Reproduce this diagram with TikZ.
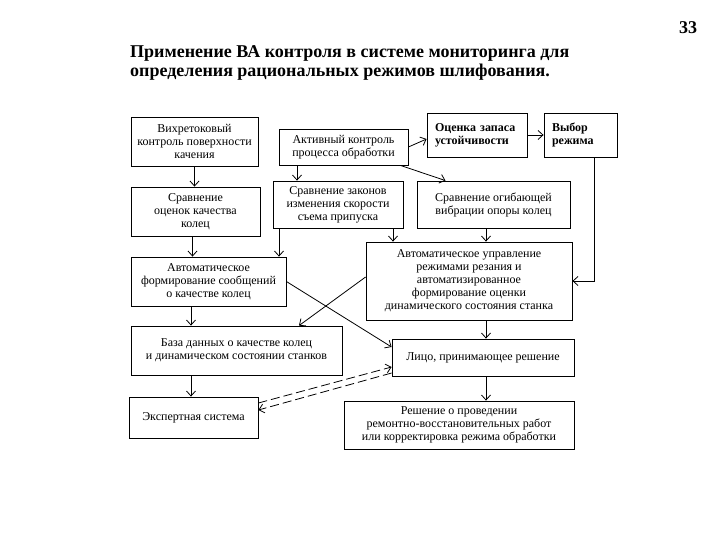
\documentclass[tikz,border=0pt]{standalone}
\usepackage{fontspec}
\setmainfont{Liberation Serif}
\usepackage{tikz}
\usetikzlibrary{arrows.meta}

\begin{document}
\begin{tikzpicture}[x=1pt, y=-1pt,
		blk/.style={draw, line width=0.8pt, align=center, inner sep=0pt, font=\fontsize{12}{13}\selectfont},
		bblk/.style={draw, line width=0.8pt, align=left, inner ysep=0pt, inner xsep=8pt, font=\bfseries\fontsize{12}{13}\selectfont},
		ttl/.style={anchor=base west, inner sep=0pt, font=\bfseries\fontsize{18}{20}\selectfont},
		arr/.style={-{Straight Barb[length=5pt, width=9pt]}, line width=0.8pt},
		darr/.style={arr, dash pattern=on 9pt off 4pt}]
	\useasboundingbox (0,0) rectangle (720,540);
	\node[ttl] (title1) at (130,58) {Применение ВА контроля в системе мониторинга для};
	\node[ttl] (title2) at (130,77) {определения рациональных режимов шлифования.};
	\node[ttl, anchor=base] (page) at (688,34) {33};
	\node[blk, minimum width=127, minimum height=49] (vih) at (194.5,141.5) {Вихретоковый\\контроль поверхности\\качения};
	\node[blk, minimum width=129, minimum height=36] (act) at (343.5,147) {Активный контроль\\процесса обработки};
	\node[bblk, text width=84, minimum height=44] (oc) at (477,135) {Оценка запаса\\устойчивости};
	\node[bblk, text width=57, minimum height=44] (vyb) at (580.5,135) {Выбор\\режима};
	\node[blk, minimum width=129, minimum height=49] (so) at (195.5,211.5) {Сравнение\\оценок качества\\колец};
	\node[blk, minimum width=130, minimum height=47] (sz) at (338,204.5) {Сравнение законов\\изменения скорости\\съема припуска};
	\node[blk, minimum width=153, minimum height=47] (og) at (493.5,204.5) {Сравнение огибающей\\вибрации опоры колец};
	\node[blk, minimum width=155, minimum height=49] (af) at (208.5,281.5) {Автоматическое\\формирование сообщений\\о качестве колец};
	\node[blk, minimum width=206, minimum height=78] (au) at (469,281) {Автоматическое управление\\режимами резания и\\автоматизированное\\формирование оценки\\динамического состояния станка};
	\node[blk, minimum width=211, minimum height=49] (baza) at (236.5,350.5) {База данных о качестве колец\\и динамическом состоянии станков};
	\node[blk, minimum width=182, minimum height=37] (lico) at (483,357.5) {Лицо, принимающее решение};
	\node[blk, minimum width=129, minimum height=41] (eks) at (193.5,417.5) {Экспертная система};
	\node[blk, minimum width=230, minimum height=48] (resh) at (459,425) {Решение о проведении\\ремонтно-восстановительных работ\\или корректировка режима обработки};
	\draw[arr] (vih.south) -- (vih.south |- so.north);
	\draw[arr] ([xshift=-46.5pt]act.south) -- ([xshift=-46.5pt]act.south |- sz.north);
	\draw[arr] (act.east) -- ([yshift=-4pt]oc.west);
	\draw[arr] ([xshift=-8pt]act.south east) -- ([xshift=-48pt]og.north);
	\draw[arr] (oc.east) -- (vyb.west);
	\draw[arr] ([xshift=13.5pt]vyb.south) |- (au.east);
	\draw[arr] ([xshift=-3pt]so.south) -- ([xshift=-3pt]so.south |- af.north);
	\draw[arr] ([xshift=-59pt]sz.south) -- ([xshift=-59pt]sz.south |- af.north);
	\draw[arr] ([xshift=55pt]sz.south) -- ([xshift=55pt]sz.south |- au.north);
	\draw[arr] ([xshift=-7.5pt]og.south) -- ([xshift=-7.5pt]og.south |- au.north);
	\draw[arr] (af.east) -- ([yshift=10.5pt]lico.west);
	\draw[arr] ([yshift=4pt]au.west) -- ([xshift=62.5pt]baza.north);
	\draw[arr] ([xshift=-17.5pt]af.south) -- ([xshift=-17.5pt]af.south |- baza.north);
	\draw[arr] ([xshift=17pt]au.south) -- ([xshift=17pt]au.south |- lico.north);
	\draw[arr] ([xshift=3pt]lico.south) -- ([xshift=3pt]lico.south |- resh.north);
	\draw[arr] ([xshift=-45.5pt]baza.south) -- ([xshift=-45.5pt]baza.south |- eks.north);
	\draw[darr] ([yshift=14.5pt]eks.east) -- ([yshift=-9.5pt]lico.west);
	\draw[darr] ([yshift=-15.5pt]lico.west) -- ([yshift=7.5pt]eks.east);
\end{tikzpicture}
\end{document}
